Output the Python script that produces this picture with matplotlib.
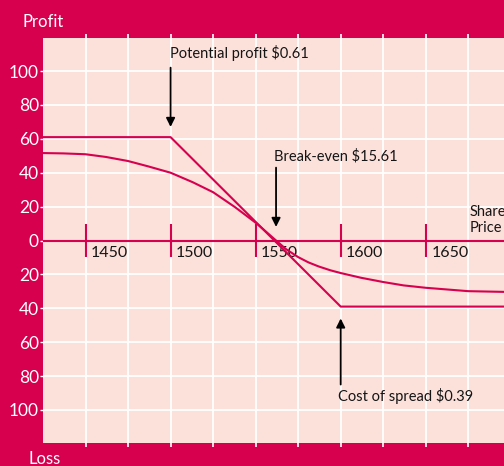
import matplotlib
matplotlib.use("Agg")
import matplotlib.pyplot as plt
import numpy as np

# ---- data ----
spread_x = [1425, 1500, 1600, 1700]
spread_y = [61, 61, -39, -39]

curve_x = [1425, 1437, 1450, 1462, 1475, 1487, 1500, 1513, 1525, 1538, 1550, 1556, 1562,
           1568, 1575, 1581, 1587, 1594, 1600, 1612, 1625, 1637, 1650, 1675, 1700]
curve_y = [51.6, 51.4, 50.9, 49.3, 46.9, 43.7, 40.0, 34.4, 28.5, 19.6, 10.5, 5.3, 0.0,
           -5.2, -9.8, -12.9, -15.3, -17.6, -19.2, -22.0, -24.5, -26.5, -27.9, -29.9, -30.4]

xtick_vals = [1450, 1500, 1550, 1600, 1650, 1700]
ytick_vals = [100, 80, 60, 40, 20, 0, -20, -40, -60, -80, -100]
ytick_labels = ["100", "80", "60", "40", "20", "0", "20", "40", "60", "80", "100"]

CRIMSON = "#D6004F"
PINK = "#FCE0DA"
TXT = "#151515"

plt.rcParams['font.family'] = ['Lato', 'DejaVu Sans']

W, H = 504, 466
fig = plt.figure(figsize=(W / 100, H / 100), dpi=100, facecolor=CRIMSON)
ax = fig.add_axes([43 / W, (H - 443) / H, (W - 43) / W, (443 - 38) / H])
ax.set_facecolor(PINK)
ax.set_xlim(1425, 1696)
ax.set_ylim(-119.5, 119.5)

for s in ax.spines.values():
    s.set_visible(False)

# grid
ax.set_xticks(np.arange(1450, 1700, 25))
ax.set_yticks(ytick_vals)
ax.set_yticklabels(ytick_labels)
ax.grid(True, color="white", lw=1.3)
ax.set_axisbelow(True)
ax.tick_params(axis="x", which="both", bottom=True, top=True, direction="out",
               length=3, width=1.2, color="white", labelbottom=False)
ax.tick_params(axis="y", left=True, direction="out", length=2, width=1,
               color="white", labelcolor="white", labelsize=12.5, pad=1)

# zero axis
ax.axhline(0, color=CRIMSON, lw=1.5, zorder=2)
ax.vlines(xtick_vals, -9.5, 9.5, color=CRIMSON, lw=1.5, zorder=2)
for xv in xtick_vals:
    ax.text(xv + 3.2, -3.5, str(xv), ha="left", va="top", fontsize=11.5, color=TXT)

# lines
ax.plot(spread_x, spread_y, color=CRIMSON, lw=1.5, zorder=3)
ax.plot(curve_x, curve_y, color=CRIMSON, lw=1.5, zorder=3, solid_joinstyle="round")

# annotations
ap = dict(arrowstyle="-|>", color="black", lw=1.3, mutation_scale=13, shrinkA=0, shrinkB=0)
ax.annotate("", xy=(1500, 67), xytext=(1500, 102), arrowprops=ap)
ax.text(1499.5, 110.5, "Potential profit $0.61", ha="left", va="center", fontsize=10.5, color=TXT)
ax.annotate("", xy=(1562, 8), xytext=(1562, 43), arrowprops=ap)
ax.text(1561, 50, "Break-even $15.61", ha="left", va="center", fontsize=10.5, color=TXT)
ax.annotate("", xy=(1600, -46), xytext=(1600, -85), arrowprops=ap)
ax.text(1598.5, -92, "Cost of spread $0.39", ha="left", va="center", fontsize=10.5, color=TXT)
ax.text(1676, 12, "Share\nPrice", ha="left", va="center", fontsize=10.5, color=TXT,
        linespacing=1.15)

fig.text(22 / W, 1 - 22 / H, "Profit", ha="left", va="center", fontsize=12, color="white")
fig.text(28 / W, 1 - 459 / H, "Loss", ha="left", va="center", fontsize=12, color="white")

fig.savefig("out.png", dpi=100, facecolor=CRIMSON)
